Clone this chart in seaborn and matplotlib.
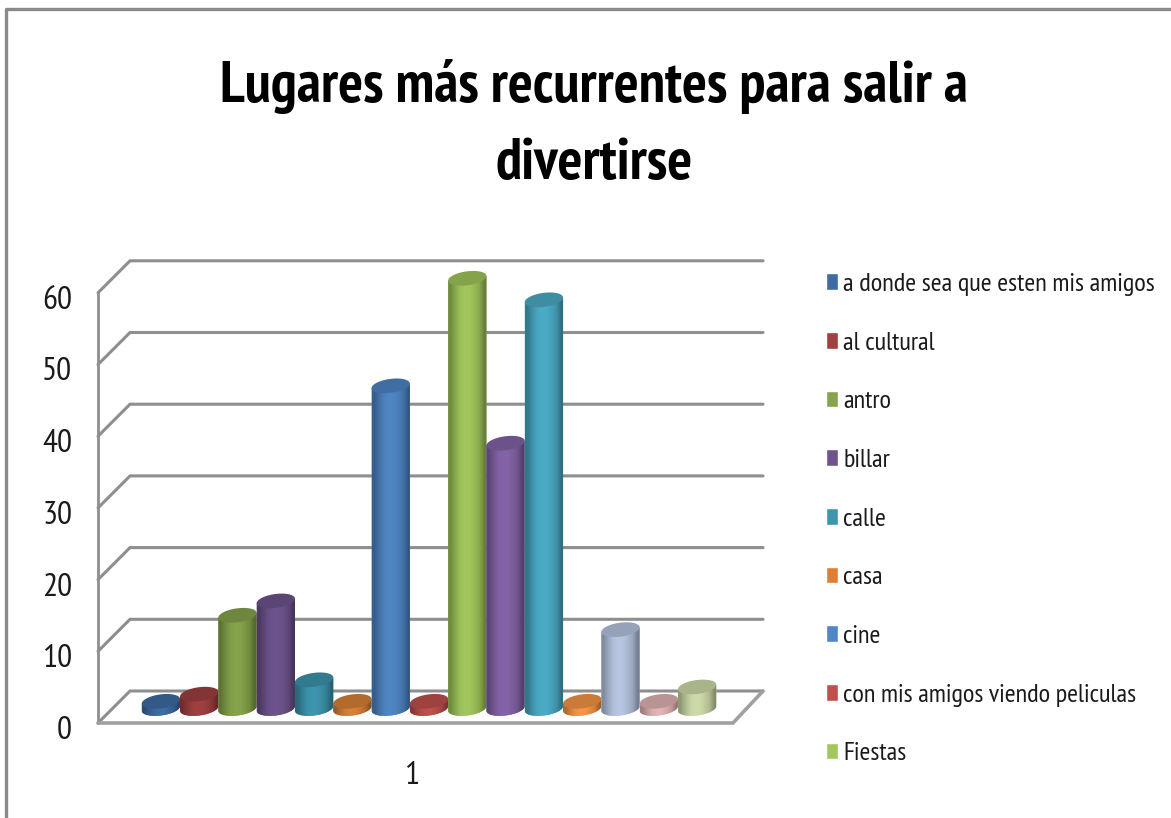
#!/usr/bin/env python3
# -*- coding: utf-8 -*-

import numpy as np
import pandas as pd
import seaborn as sns
import matplotlib.pyplot as plt
from matplotlib import font_manager as fm
from matplotlib.colors import to_rgb
from matplotlib.transforms import ScaledTranslation

lugares = ['a donde sea que esten mis amigos', 'al cultural', 'antro', 'billar',
           'calle', 'casa', 'cine', 'con mis amigos viendo peliculas', 'Fiestas',
           'lugar 10', 'lugar 11', 'lugar 12', 'lugar 13', 'lugar 14', 'lugar 15']
valores = [1, 2, 13, 15, 4, 1, 45, 1, 60, 37, 57, 1, 11, 1, 3]
colores = ['#3E6DA4', '#A04040', '#86A44A', '#6E548D', '#3D96AE', '#DA8137',
           '#4F86C6', '#C0504D', '#A2C75C', '#8464A8', '#4BACC6', '#F79646',
           '#B7C6E2', '#E3B5B4', '#CEDBA9']
grupo = ['1'] * len(lugares)
marcas_y = [0, 10, 20, 30, 40, 50, 60]
titulo = 'Lugares más recurrentes para salir a\ndivertirse'

sns.set_theme(style='white')

# narrow face when the machine has it, otherwise shrink the text so it still fits
instaladas = {f.name for f in fm.fontManager.ttflist}
if 'PT Sans Narrow' in instaladas:
    plt.rcParams['font.family'] = ['PT Sans Narrow', 'DejaVu Sans']
    esc = 1.0
else:
    plt.rcParams['font.family'] = ['Liberation Sans', 'DejaVu Sans']
    esc = 0.8

W, H = 1171, 818
fig = plt.figure(figsize=(W / 100, H / 100), dpi=100)
ax = fig.add_axes([0, 0, 1, 1])

df = pd.DataFrame({'grupo': grupo, 'lugar': lugares, 'valor': valores})
sns.barplot(data=df, x='grupo', y='valor', hue='lugar', palette=colores, saturation=1,
            width=1, gap=0, ax=ax)

# scale of the picture: pixels per data unit, and where the bars start
px_x, px_y = 574.5, 7.17
x0_px, y0_px = 429, 708.5
limx = ((0 - x0_px) / px_x, (W - x0_px) / px_x)
limy = ((y0_px - H) / px_y, y0_px / px_y)

# fake depth of the chart box, in data units
izq_f, der_f = (98 - x0_px) / px_x, (733 - x0_px) / px_x
izq_a, der_a = (130 - x0_px) / px_x, (763 - x0_px) / px_x
y_f, y_a = (y0_px - 723) / px_y, (y0_px - 691) / px_y

gris = '#8E8E8E'
for v in marcas_y:
    ax.plot([izq_f, izq_a, der_a], [y_f + v, y_a + v, y_a + v], color=gris, lw=2.2, zorder=1,
            solid_joinstyle='miter')
ax.plot([izq_f, izq_f], [y_f, y_f + 60], color=gris, lw=2, zorder=1)
ax.plot([izq_f, der_f, der_a], [y_f, y_f, y_a], color='#A0A0A0', lw=2.6, zorder=1,
        solid_joinstyle='miter')

# cylinders on top of the bars seaborn gave us
a_y = 7 / px_y
incl = 0.12 * px_x / px_y
sombra = np.array([0.70, 0.84, 0.96, 1.0, 0.99, 0.93, 0.84, 0.64])
t_ab = np.linspace(np.pi, 2 * np.pi, 40)
t_all = np.linspace(0, 2 * np.pi, 80)

for i, cont in enumerate(ax.containers):
    barra = cont.patches[0]
    xc = barra.get_x() + barra.get_width() / 2
    med = barra.get_width() / 2
    alto = barra.get_height()
    col = np.array(to_rgb(colores[i]))
    barra.set_visible(False)

    x_ab = xc + med * np.cos(t_ab)
    y_ab = a_y * np.sin(t_ab) + incl * med * np.cos(t_ab)
    x_cu = np.concatenate([x_ab, [xc + med, xc - med]])
    y_cu = np.concatenate([y_ab, [alto + incl * med, alto - incl * med]])
    forma = ax.fill(x_cu, y_cu, color=col, lw=0, zorder=3 + i)[0]
    grad = np.clip(sombra[None, :, None] * col[None, None, :], 0, 1)
    im = ax.imshow(grad, extent=(xc - med, xc + med, y_ab.min() - 1, alto + 4), aspect='auto',
                   interpolation='bilinear', zorder=3 + i)
    im.set_clip_path(forma)

    ax.fill(xc + med * np.cos(t_all),
            alto + a_y * np.sin(t_all) + incl * med * np.cos(t_all),
            color=col * 0.82, lw=0, zorder=3 + i)

ax.set_xlim(limx)
ax.set_ylim(limy)
ax.set_xlabel('')
ax.set_ylabel('')
ax.set_yticks(marcas_y)
ax.tick_params(axis='y', length=0, pad=-52, labelsize=24 * esc, labelcolor='#1A1A1A')
ax.tick_params(axis='x', length=0, pad=-41, labelsize=24 * esc, labelcolor='#1A1A1A')
for lab in ax.get_yticklabels():
    lab.set_transform(lab.get_transform() + ScaledTranslation(0, -0.19, fig.dpi_scale_trans))
for lab in ax.get_xticklabels():
    lab.set_transform(lab.get_transform() + ScaledTranslation(-0.17, 0, fig.dpi_scale_trans))
sns.despine(ax=ax, left=True, bottom=True)
ax.patch.set_visible(False)

vieja = ax.get_legend()
manijas = vieja.legend_handles[:9]
nombres = [t.get_text() for t in vieja.get_texts()][:9]
ax.legend(manijas, nombres, loc='upper left', bbox_to_anchor=(826 / W, 1 - 273 / H),
          bbox_transform=fig.transFigure, frameon=False, fontsize=19 * esc, borderpad=0,
          borderaxespad=0, labelspacing=1.352 / esc, handlelength=0.45, handleheight=0.6,
          handletextpad=0.2, labelcolor='#1A1A1A')

fig.text(594 / W, 1 - 125 / H, titulo, ha='center', va='center', fontsize=42 * esc,
         fontweight='bold', color='black', linespacing=1.57)

# the grey frame of the original chart object
ax.plot([(6 - x0_px) / px_x, (6 - x0_px) / px_x, limx[1]],
        [limy[0], (y0_px - 9) / px_y, (y0_px - 9) / px_y], color='#8A8A8A', lw=2.4, zorder=1)

fig.savefig('out.png', dpi=100)
